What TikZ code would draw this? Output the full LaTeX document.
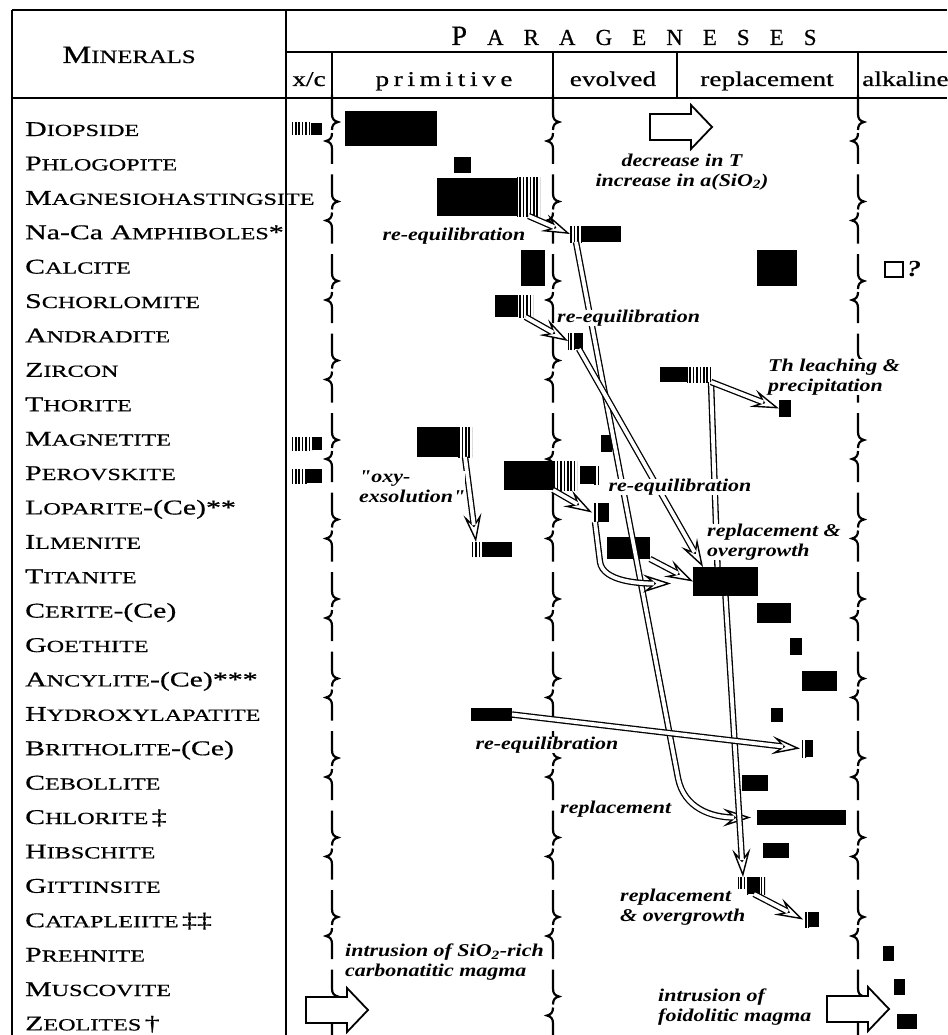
\documentclass[tikz,border=0pt]{standalone}
\usepackage{fontspec}
\setmainfont{Liberation Serif}[FakeBold=0.5]
\newfontfamily\nmfont[FakeStretch=1.42,FakeBold=0.6]{Liberation Serif}
\newfontfamily\hdfont[FakeStretch=1.3,FakeBold=0.6]{Liberation Serif}
\newfontfamily\spfont[FakeStretch=1.3,LetterSpace=22,FakeBold=0.6]{Liberation Serif}
\newfontfamily\anfont[FakeStretch=1.22]{Liberation Serif}
\usetikzlibrary{arrows.meta,patterns.meta}
% mineral names in fake small caps
\newcommand\mn[2]{{\fontsize{21}{21}\selectfont #1}{\fontsize{17}{17}\selectfont #2}}
\newcommand\pk{\kern20pt}
% bar: style, name, x1, y1, x2, y2
\newcommand\barnode[6]{\node[#1, inner sep=0pt, outer sep=0pt, anchor=north west,
  minimum width={(#5)-(#3)}, minimum height={(#6)-(#4)}] (#2) at (#3,#4) {};}
\begin{document}
\begin{tikzpicture}[x=1pt,y=-1pt,
  frame/.style={line width=2.4pt},
  divline/.style={line width=2.2pt},
  barfill/.style={fill=black},
  barhatch/.style={pattern={Lines[angle=90,distance=3.4pt,line width=1.6pt]}},
  barbox/.style={draw,line width=2pt,fill=white},
  mineral/.style={anchor=base west,inner sep=0pt,font=\nmfont\fontsize{21}{21}\selectfont},
  head/.style={inner sep=0pt,anchor=base,font=\hdfont\fontsize{21}{21}\selectfont},
  note/.style={inner sep=0pt,fill=white,align=left,font=\anfont\bfseries\itshape\fontsize{18}{20}\selectfont},
  reeqline/.style={line width=6.4pt,postaction={draw=white,line width=3.8pt}},
  reeq/.style={line width=6.4pt,
    -{Stealth[length=28pt,width=18pt,inset=11pt,fill=white,line width=1.4pt]},
    postaction={draw=white,line width=3.8pt,-,shorten >=17pt}},
  fatarrow/.pic={\draw[line width=1.8pt,fill=white] (0,-13) -- (41,-13) -- (41,-22)
    -- (62,0) -- (41,22) -- (41,13) -- (0,13) -- cycle;}]
\useasboundingbox (0,0) rectangle (947,1035);

% table frame
\draw[frame] (12,10) -- (947,10);
\draw[frame] (12,10) -- (12,1035);
\draw[frame] (286,10) -- (286,1035);
\draw[frame] (286,52) -- (947,52);
\draw[frame] (12,98) -- (947,98);
\foreach \x in {332,553,677,858} \draw[frame] (\x,52) -- (\x,98);

% headings
\node[font=\hdfont,anchor=base,inner sep=0pt] (minerals) at (129,63)
  {\fontsize{25}{25}\selectfont M\fontsize{19}{19}\selectfont INERALS};
\node[anchor=base,inner sep=0pt] (para) at (634,45)
  {\fontsize{28}{28}\selectfont P\pk\fontsize{23}{23}\selectfont A\pk R\pk A\pk G\pk E\pk N\pk E\pk S\pk E\pk S};
\node[head] (xc) at (309,86) {x/c};
\node[head,font=\spfont\fontsize{21}{21}\selectfont] (prim) at (444,86) {primitive};
\node[head] (evol) at (613,86) {evolved};
\node[head] (repl) at (767,86) {replacement};
\node[head,anchor=base west] (alk) at (862,86) {alkaline};

% mineral names
\foreach \nm [count=\i from 0] in {\mn{D}{IOPSIDE}, \mn{P}{HLOGOPITE},
  \mn{M}{AGNESIOHASTINGSITE}, Na-Ca \mn{A}{MPHIBOLES}*, \mn{C}{ALCITE},
  \mn{S}{CHORLOMITE}, \mn{A}{NDRADITE}, \mn{Z}{IRCON}, \mn{T}{HORITE},
  \mn{M}{AGNETITE}, \mn{P}{EROVSKITE}, \mn{L}{OPARITE}-(Ce)**, \mn{I}{LMENITE},
  \mn{T}{ITANITE}, \mn{C}{ERITE}-(Ce), \mn{G}{OETHITE}, \mn{A}{NCYLITE}-(Ce)***,
  \mn{H}{YDROXYLAPATITE}, \mn{B}{RITHOLITE}-(Ce), \mn{C}{EBOLLITE},
  \mn{C}{HLORITE}\,‡, \mn{H}{IBSCHITE}, \mn{G}{ITTINSITE}, \mn{C}{ATAPLEIITE}\,‡‡,
  \mn{P}{REHNITE}, \mn{M}{USCOVITE}, \mn{Z}{EOLITES}\,†}
  \node[mineral] (n\i) at (25,136+34.4*\i) {\nm};

% broken column dividers
\foreach \x in {332,553,858}{
  \foreach \k in {0,...,11}{
    \pgfmathsetmacro\yo{122+79.5*\k}
    \draw[divline] (\x,\yo-27) -- (\x,\yo-8) .. controls (\x,\yo-3) and (\x+2,\yo-1) .. (\x+6,\yo)
      .. controls (\x+2,\yo+1) and (\x,\yo+3) .. (\x,\yo+8);
    \draw[divline] (\x,\yo+11) .. controls (\x,\yo+16) and (\x-2,\yo+18) .. (\x-6,\yo+19)
      .. controls (\x-2,\yo+20) and (\x,\yo+22) .. (\x,\yo+27) -- (\x,\yo+42);
  }
}

% bars
\barnode{barhatch}{dio0}{292}{123}{311}{135}
\barnode{barfill}{dio0b}{311}{123}{322}{135}
\barnode{barfill}{dio}{345}{111}{437}{146}
\barnode{barfill}{phl}{454}{157}{471}{173}
\barnode{barfill}{mgh}{437}{178}{517}{216}
\barnode{barhatch}{mghs}{517}{178}{540}{216}
\barnode{barhatch}{nca0}{570}{226}{582}{242}
\barnode{barfill}{nca}{582}{226}{621}{242}
\barnode{barfill}{cal}{521}{250}{545}{286}
\barnode{barfill}{cal2}{757}{250}{797}{286}
\barnode{barbox}{cal3}{885}{262}{903}{277}
\barnode{barfill}{sch}{495}{295}{518}{317}
\barnode{barhatch}{schs}{518}{295}{533}{317}
\barnode{barhatch}{and0}{568}{333}{575}{349}
\barnode{barfill}{and}{575}{333}{583}{349}
\barnode{barfill}{zir}{660}{367}{687}{382}
\barnode{barhatch}{zirs}{687}{367}{711}{382}
\barnode{barfill}{tho}{779}{400}{791}{417}
\barnode{barhatch}{mag0}{290}{437}{312}{450}
\barnode{barfill}{mag0b}{312}{437}{322}{450}
\barnode{barfill}{mag}{417}{427}{458}{457}
\barnode{barhatch}{mags}{458}{427}{472}{457}
\barnode{barfill}{mag2}{601}{435}{612}{452}
\barnode{barhatch}{per0}{290}{469}{307}{483}
\barnode{barfill}{per0b}{307}{469}{322}{483}
\barnode{barfill}{per}{504}{461}{553}{490}
\barnode{barhatch}{pers}{553}{461}{577}{490}
\barnode{barfill}{per2}{580}{466}{594}{484}
\barnode{barhatch}{per2s}{594}{466}{599}{484}
\barnode{barhatch}{lop0}{592}{503}{598}{522}
\barnode{barfill}{lop}{598}{503}{609}{522}
\barnode{barhatch}{ilm0}{470}{542}{482}{557}
\barnode{barfill}{ilm}{482}{542}{512}{557}
\barnode{barfill}{ilm2}{607}{537}{650}{559}
\barnode{barfill}{tit}{693}{567}{758}{596}
\barnode{barfill}{cer}{757}{603}{791}{623}
\barnode{barfill}{goe}{790}{638}{802}{655}
\barnode{barfill}{anc}{802}{671}{837}{691}
\barnode{barfill}{hyd}{471}{708}{512}{721}
\barnode{barfill}{hyd2}{771}{708}{783}{722}
\barnode{barhatch}{bri0}{800}{740}{806}{757}
\barnode{barfill}{bri}{806}{740}{813}{757}
\barnode{barfill}{ceb}{742}{775}{768}{791}
\barnode{barfill}{chl}{757}{810}{846}{825}
\barnode{barfill}{hib}{763}{843}{789}{858}
\barnode{barhatch}{git0}{738}{877}{748}{894}
\barnode{barfill}{git}{748}{877}{760}{894}
\barnode{barhatch}{git2}{760}{877}{765}{894}
\barnode{barhatch}{cat0}{803}{912}{809}{927}
\barnode{barfill}{cat}{809}{912}{819}{927}
\barnode{barfill}{pre}{883}{946}{894}{961}
\barnode{barfill}{mus}{894}{979}{905}{995}
\barnode{barfill}{zeo}{897}{1014}{917}{1029}

% transformation arrows
\draw[reeqline] (zirs.south east) -- ([xshift=-8pt]tit.north);
\draw[reeq] (nca0.south) -- ++(102,536) .. controls +(6,30) and +(-40,0) .. ([xshift=-6pt]chl.west);
\draw[reeq] (and.south) -- ([xshift=10pt]tit.north west);
\draw[reeq] (tit.south) -- (git0.north);
\draw[reeq] (lop0.south) -- ++(5,40) .. controls +(3,20) and +(-30,0) .. ([xshift=-22pt,yshift=-2pt]tit.west);
\draw[reeq] (mghs.south) -- (nca0.west);
\draw[reeq] (schs.south) -- (and0.west);
\draw[reeq] (zirs.south east) -- (tho.west);
\draw[reeq] (per.south east) -- (lop0.west);
\draw[reeq] (mags.south) -- (ilm0.north);
\draw[reeq] (hyd.east) -- (bri0.west);
\draw[reeq] (ilm2.south east) -- (tit.west);
\draw[reeq] (git.south) -- (cat0.west);

% notes
\node[note] (t1) at (454,236) {re-equilibration};
\node[note,align=center] (t2) at (682,172) {decrease in T\\increase in a(SiO\textsubscript{2})};
\node[note,anchor=west] (t3) at (557,318) {re-equilibration};
\node[note,anchor=west] (t4) at (768,377) {Th leaching \&\\precipitation};
\node[note,anchor=west] (t5) at (359,487) {"oxy-\\exsolution"};
\node[note] (t6) at (680,487) {re-equilibration};
\node[note,anchor=west] (t7) at (707,542) {replacement \&\\overgrowth};
\node[note] (t8) at (547,745) {re-equilibration};
\node[note,anchor=west] (t9) at (560,809) {replacement};
\node[note,anchor=west] (t10) at (620,907) {replacement\\\& overgrowth};
\node[note,anchor=west] (t11) at (345,962) {intrusion of SiO\textsubscript{2}-rich\\carbonatitic magma};
\node[note,anchor=west] (t12) at (658,1007) {intrusion of\\foidolitic magma};
\node[note,anchor=west,font=\anfont\bfseries\itshape\fontsize{23}{23}\selectfont] (q) at (907,269) {?};

% big arrows
\pic at (650,127) {fatarrow};
\pic at (306,1010) {fatarrow};
\pic at (827,1009) {fatarrow};
\end{tikzpicture}
\end{document}
